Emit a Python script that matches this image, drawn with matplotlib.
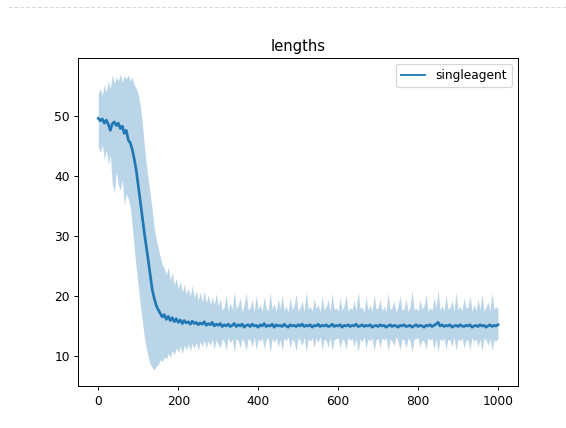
import numpy as np
import matplotlib
matplotlib.use("Agg")
import matplotlib.pyplot as plt
from matplotlib.lines import Line2D

# episode lengths, sampled every 5 episodes (0..1000)
mean_len = [
    49.6, 49.2, 49.5, 48.8, 49.3, 48.6, 47.6, 48.7, 49.0, 48.4,
    48.8, 47.9, 48.3, 47.1, 47.6, 46.0, 45.5, 44.4, 42.8, 40.9,
    38.4, 35.8, 33.2, 30.6, 28.3, 25.9, 23.5, 21.0, 19.6, 18.4,
    17.7, 17.1, 16.5, 16.9, 16.1, 16.6, 15.9, 16.4, 15.7, 16.2,
    15.6, 16.0, 15.4, 15.9, 15.5, 15.7, 15.3, 15.8, 15.4, 15.6,
    15.2, 15.5, 15.3, 15.7, 15.1, 15.4, 15.2, 15.6, 15.0, 15.3,
    15.1, 15.4, 14.9, 15.2, 15.0, 15.3, 14.9, 15.1, 15.4, 14.9,
    15.2, 15.0, 15.3, 14.8, 15.1, 15.2, 14.9, 15.3, 15.0, 15.1,
    14.8, 15.2, 15.0, 15.4, 14.9, 15.1, 15.0, 15.3, 14.8, 15.2,
    15.0, 15.1, 14.9, 15.3, 15.0, 14.8, 15.2, 15.0, 15.1, 14.9,
    15.2, 15.0, 15.3, 14.9, 15.1, 15.0, 15.2, 14.8, 15.1, 15.0,
    15.3, 14.9, 15.1, 15.0, 15.2, 14.9, 15.0, 15.3, 14.9, 15.1,
    15.0, 15.2, 14.8, 15.1, 15.0, 15.2, 14.9, 15.1, 15.0, 15.3,
    14.9, 15.0, 15.2, 14.9, 15.1, 15.0, 15.2, 14.8, 15.0, 15.1,
    14.9, 15.2, 15.0, 15.1, 14.8, 15.0, 15.2, 14.9, 15.1, 15.0,
    14.8, 15.1, 15.0, 15.2, 14.9, 15.0, 15.1, 14.8, 15.0, 15.2,
    14.9, 15.1, 15.0, 14.8, 15.1, 15.0, 15.2, 14.9, 15.1, 15.3,
    15.6, 15.0, 15.2, 14.9, 15.1, 15.0, 15.2, 14.8, 15.0, 15.1,
    14.9, 15.2, 15.0, 14.9, 15.1, 15.0, 15.2, 14.8, 15.0, 15.1,
    14.9, 15.2, 15.0, 15.1, 14.8, 15.0, 15.2, 14.9, 15.1, 15.0,
    15.2,
]
upper_len = [
    53.8, 54.6, 53.5, 55.2, 54.0, 55.8, 54.5, 56.9, 55.4, 56.5,
    55.8, 57.0, 55.6, 56.7, 56.2, 56.8, 55.9, 56.4, 55.2, 54.6,
    53.6, 51.8, 48.9, 45.2, 42.0, 39.4, 36.9, 34.3, 31.2, 29.4,
    28.0, 26.5, 25.2, 24.6, 23.5, 24.8, 22.6, 23.9, 21.8, 23.0,
    21.2, 22.5, 20.6, 22.0, 20.3, 21.4, 19.9, 21.8, 19.7, 20.9,
    19.3, 20.6, 19.0, 20.8, 18.9, 20.2, 18.6, 19.8, 18.5, 20.4,
    18.3, 19.6, 17.6, 18.2, 20.3, 17.5, 18.9, 17.7, 20.8, 17.9,
    18.4, 19.7, 17.4, 18.6, 20.5, 17.6, 18.1, 19.4, 17.3, 20.1,
    17.8, 18.5, 17.4, 19.9, 18.0, 17.5, 20.6, 17.8, 18.7, 17.4,
    19.5, 17.9, 20.2, 17.6, 18.3, 17.3, 19.8, 17.7, 18.4, 20.4,
    17.5, 18.1, 19.2, 17.4, 20.7, 17.8, 18.3, 17.5, 19.6, 17.9,
    18.6, 17.3, 20.0, 17.7, 18.2, 19.4, 17.4, 20.5, 17.8, 18.0,
    17.5, 19.7, 17.6, 18.4, 20.2, 17.4, 18.1, 17.7, 19.3, 17.5,
    20.8, 17.9, 18.2, 17.3, 19.9, 17.6, 18.5, 17.4, 20.3, 17.8,
    18.0, 19.5, 17.5, 18.3, 17.4, 20.6, 17.7, 18.1, 19.2, 17.3,
    18.4, 20.1, 17.6, 17.9, 19.6, 17.4, 18.2, 20.9, 17.7, 18.0,
    17.5, 19.4, 17.8, 18.3, 20.4, 17.4, 18.1, 17.6, 19.8, 18.0,
    21.0, 17.7, 18.4, 17.5, 20.2, 17.8, 18.1, 19.3, 17.4, 20.6,
    17.7, 18.3, 17.5, 19.7, 17.9, 18.2, 20.0, 17.4, 18.6, 17.6,
    19.5, 17.8, 20.3, 17.5, 18.1, 19.0, 17.6, 20.5, 17.8, 18.2,
    17.9,
]
lower_len = [
    44.8, 43.9, 45.2, 42.8, 44.3, 41.9, 43.5, 38.6, 37.2, 40.8,
    38.5, 37.6, 39.4, 35.2, 37.0, 36.2, 34.8, 31.6, 27.8, 24.5,
    21.5, 18.6, 15.8, 13.2, 11.3, 9.8, 8.6, 8.0, 7.7, 8.3,
    8.6, 9.4, 9.0, 9.8, 9.5, 10.4, 9.8, 10.9, 10.2, 11.3,
    10.6, 11.6, 10.4, 11.8, 11.0, 12.0, 10.8, 12.1, 11.2, 12.3,
    10.9, 12.4, 11.6, 12.6, 11.3, 12.5, 11.8, 12.8, 11.2, 12.7,
    12.0, 11.4, 12.9, 12.4, 11.0, 13.1, 12.2, 12.8, 10.7, 12.9,
    12.5, 11.3, 13.0, 12.3, 10.9, 12.9, 12.6, 11.6, 13.1, 11.1,
    12.8, 12.4, 13.0, 11.2, 12.7, 13.1, 10.6, 12.9, 12.3, 13.0,
    11.5, 12.8, 10.9, 13.0, 12.5, 13.2, 11.3, 12.9, 12.4, 10.8,
    13.0, 12.6, 11.7, 13.1, 10.7, 12.8, 12.5, 13.0, 11.4, 12.9,
    12.3, 13.2, 11.0, 12.8, 12.6, 11.5, 13.1, 10.9, 12.7, 12.9,
    13.0, 11.3, 12.8, 12.5, 11.0, 13.1, 12.6, 12.9, 11.6, 13.0,
    10.6, 12.8, 12.4, 13.2, 11.2, 12.9, 12.5, 13.0, 10.9, 12.7,
    12.9, 11.4, 13.0, 12.6, 13.1, 10.8, 12.8, 12.5, 11.7, 13.2,
    12.4, 11.0, 12.9, 12.7, 11.3, 13.0, 12.5, 10.6, 12.8, 12.9,
    13.0, 11.5, 12.7, 12.4, 11.1, 13.1, 12.6, 12.9, 11.2, 12.8,
    10.7, 12.9, 12.5, 13.0, 11.1, 12.8, 12.6, 11.6, 13.1, 10.9,
    12.8, 12.5, 13.0, 11.3, 12.7, 12.6, 11.0, 13.1, 12.4, 12.9,
    11.5, 12.8, 10.8, 13.0, 12.6, 11.8, 12.9, 11.0, 12.7, 12.5,
    12.9,
]
episodes = np.arange(len(mean_len)) * 5

dpi = 88.5
fig = plt.figure(figsize=(566.3 / dpi, 428.3 / dpi), dpi=dpi)
ax = fig.add_axes([78.3 / 566, 42 / 428, 439.4 / 566, 328 / 428])

ax.fill_between(episodes, lower_len, upper_len, color="C0", alpha=0.3, linewidth=0)
ax.plot(episodes, mean_len, color="C0", linewidth=2.2, label="singleagent")
ax.set_xlim(-50, 1050)
ax.set_ylim(5.0, 59.7)
ax.set_title("lengths")
ax.legend(loc="upper right")
plt.setp(ax.get_legend().get_lines(), linewidth=1.5)

# faint dashed rule across the top of the image
fig.add_artist(Line2D([8 / 566, 1.0], [1 - 7 / 428, 1 - 7 / 428], color="#d8d8d8",
                      linewidth=0.8, linestyle=(0, (4, 2))))

fig.savefig("out.png", dpi=dpi)
